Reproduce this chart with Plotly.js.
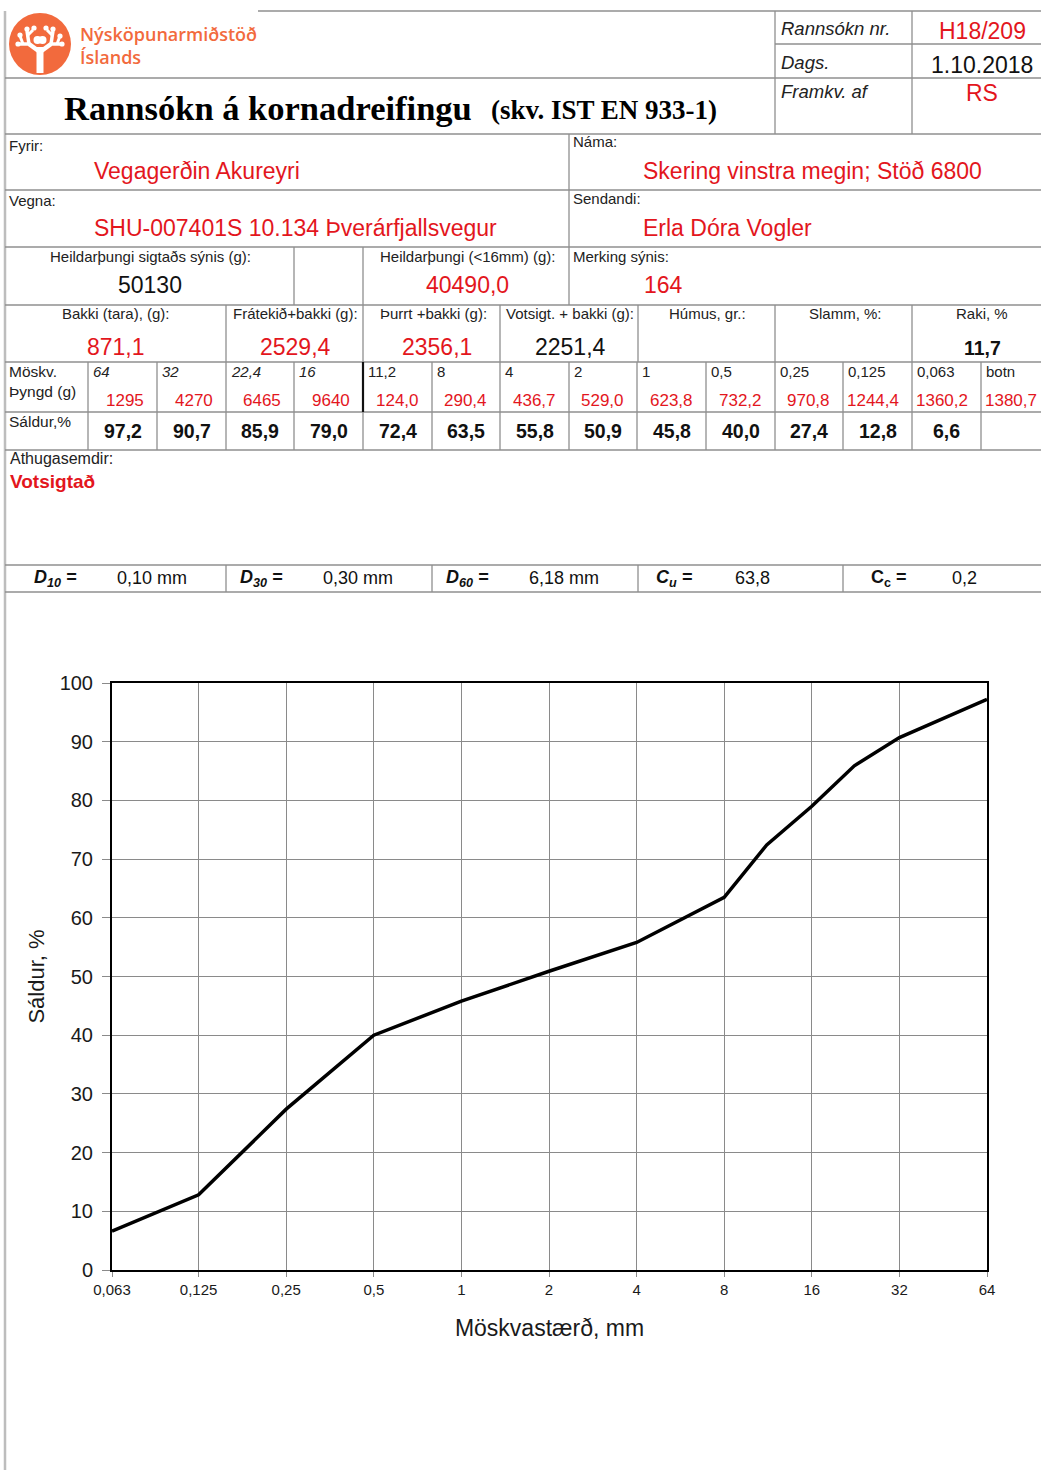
<!DOCTYPE html>
<html>
<head>
<meta charset="utf-8">
<script src="https://cdn.plot.ly/plotly-3.0.1.min.js"></script>
<style>html,body{margin:0;padding:0;background:#fff;}#chart{width:1041px;height:1470px;}</style>
</head>
<body>
<div id="chart"></div>
<script>
// ---------- data ----------
const sieveSizes = [0.063, 0.125, 0.25, 0.5, 1, 2, 4, 8, 11.2, 16, 22.4, 32, 64];
const passing    = [6.6, 12.8, 27.4, 40.0, 45.8, 50.9, 55.8, 63.5, 72.4, 79.0, 85.9, 90.7, 97.2];

const xTickVals = [0.063, 0.125, 0.25, 0.5, 1, 2, 4, 8, 16, 32, 64];
const xTickText = ['0,063', '0,125', '0,25', '0,5', '1', '2', '4', '8', '16', '32', '64'];
const yTickVals = [0, 10, 20, 30, 40, 50, 60, 70, 80, 90, 100];

const tableSieves  = ['64', '32', '22,4', '16', '11,2', '8', '4', '2', '1', '0,5', '0,25', '0,125', '0,063', 'botn'];
const tableWeights = ['1295', '4270', '6465', '9640', '124,0', '290,4', '436,7', '529,0', '623,8', '732,2', '970,8', '1244,4', '1360,2', '1380,7'];
const tablePassing = ['97,2', '90,7', '85,9', '79,0', '72,4', '63,5', '55,8', '50,9', '45,8', '40,0', '27,4', '12,8', '6,6', ''];

const reportNo = 'H18/209', reportDate = '1.10.2018', performedBy = 'RS';
const client = 'Vegagerðin Akureyri', mine = 'Skering vinstra megin; Stöð 6800';
const project = 'SHU-007401S 10.134 Þverárfjallsvegur', sender = 'Erla Dóra Vogler';
const totalMass = '50130', totalMass16 = '40490,0', sampleId = '164';
const tray = '871,1', reservedTray = '2529,4', dryTray = '2356,1', washedTray = '2251,4', moisture = '11,7';
const remark = 'Votsigtað';
const dLabels = ['10', '30', '60'];
const dValues = ['0,10 mm', '0,30 mm', '6,18 mm'];
const cu = '63,8', cc = '0,2';

// ---------- helpers ----------
const W = 1041, H = 1470;
const px = x => x / W, py = y => 1 - y / H;
const SANS = 'Liberation Sans, Arial, Helvetica, sans-serif';
const SERIF = 'Liberation Serif, Times New Roman, serif';
const RED = '#e3161d', ORANGE = '#f26a3d', LINE = '#8f8f8f';
const shapes = [], annotations = [];

function ln(x0, y0, x1, y1, color = LINE, width = 1.3) {
  shapes.push({type: 'line', xref: 'paper', yref: 'paper', x0: px(x0), y0: py(y0), x1: px(x1), y1: py(y1),
    line: {color: color, width: width}, layer: 'above'});
}
function circ(cx, cy, r, fill) {
  shapes.push({type: 'circle', xref: 'paper', yref: 'paper', x0: px(cx - r), x1: px(cx + r), y0: py(cy + r), y1: py(cy - r),
    fillcolor: fill, line: {width: 0}, layer: 'above'});
}
function txt(x, y, text, size, color = '#111', anchor = 'left', family = SANS, weight) {
  const font = {size: size, color: color, family: family};
  if (weight) font.weight = weight;
  annotations.push({xref: 'paper', yref: 'paper', x: px(x), y: py(y), text: text, showarrow: false,
    xanchor: anchor, yanchor: 'middle', font: font, borderpad: 0});
}

// ---------- form lines ----------
ln(5, 11, 5, 1470, '#bdbdbd', 2.5);
ln(258, 11, 1041, 11);
ln(775, 44, 1041, 44);
[78, 134, 190, 247, 305, 362, 412, 450, 565, 592].forEach(y => ln(5, y, 1041, y));
ln(775, 11, 775, 134); ln(912, 11, 912, 134);
ln(569, 134, 569, 305);
ln(294, 247, 294, 305); ln(363, 247, 363, 305);
[226, 363, 500, 638, 775, 912].forEach(x => ln(x, 305, x, 362));
const cellEdges = [88, 157, 226, 294, 363, 432, 500, 569, 637, 706, 775, 843, 912, 981, 1050];
cellEdges.slice(0, 14).forEach(x => ln(x, 362, x, 450));
ln(363, 362, 363, 412, '#111', 2.2);
[226, 432, 638, 843].forEach(x => ln(x, 565, x, 592));

// ---------- logo ----------
circ(40, 44, 31, ORANGE);
const W2 = '#ffffff';
ln(40, 73, 40, 47, W2, 7);
ln(40, 52, 29, 44, W2, 4.5); ln(40, 52, 51, 44, W2, 4.5);
ln(29, 44, 19, 44, W2, 3.5); ln(51, 44, 61, 44, W2, 3.5);
ln(29, 44, 27, 31, W2, 3.5); ln(51, 44, 53, 31, W2, 3.5);
ln(23, 44, 20, 36, W2, 3); ln(57, 44, 60, 36, W2, 3);
ln(27, 36, 33, 30, W2, 3); ln(53, 36, 47, 30, W2, 3);
[[18, 44], [60, 36], [20, 35], [27, 29], [34, 28], [62, 44], [53, 29], [46, 28]].forEach(p => circ(p[0], p[1], 2.6, W2));
circ(37.5, 40, 4, W2); circ(42.5, 40, 4, W2);
txt(79, 34, 'Nýsköpunarmiðstöð', 18, ORANGE, 'left', 'Open Sans, Liberation Sans, sans-serif', 600);
txt(79, 57, 'Íslands', 18, ORANGE, 'left', 'Open Sans, Liberation Sans, sans-serif', 600);

// ---------- title & header ----------
txt(63, 108, '<b>Rannsókn á kornadreifingu</b>', 34.5, '#000', 'left', SERIF);
txt(490, 110, '<b>(skv. IST EN 933-1)</b>', 27, '#000', 'left', SERIF);
txt(780, 28, '<i>Rannsókn nr.</i>', 18.5, '#222');
txt(982, 31, reportNo, 23, RED, 'center');
txt(780, 62, '<i>Dags.</i>', 18.5, '#222');
txt(982, 65, reportDate, 23, '#111', 'center');
txt(780, 91, '<i>Framkv. af</i>', 18.5, '#222');
txt(982, 93, performedBy, 23, RED, 'center');

// ---------- info rows ----------
txt(8, 145, 'Fyrir:', 15, '#222');
txt(93, 171, client, 23, RED);
txt(572, 141, 'Náma:', 15, '#222');
txt(642, 171, mine, 23, RED);
txt(8, 200, 'Vegna:', 15, '#222');
txt(93, 228, project, 23, RED);
txt(572, 198, 'Sendandi:', 15, '#222');
txt(642, 228, sender, 23, RED);

txt(150, 257, 'Heildarþungi sigtaðs sýnis (g):', 15, '#222', 'center');
txt(150, 285, totalMass, 23, '#111', 'center');
txt(467, 257, 'Heildarþungi (&lt;16mm) (g):', 15, '#222', 'center');
txt(467, 285, totalMass16, 23, RED, 'center');
txt(572, 257, 'Merking sýnis:', 15, '#222');
txt(643, 285, sampleId, 23, RED);

txt(116, 313, 'Bakki (tara), (g):', 15, '#222', 'center');
txt(116, 347, tray, 23, RED, 'center');
txt(295, 313, 'Frátekið+bakki (g):', 15, '#222', 'center');
txt(295, 347, reservedTray, 23, RED, 'center');
txt(433, 313, 'Þurrt +bakki (g):', 15, '#222', 'center');
txt(437, 347, dryTray, 23, RED, 'center');
txt(570, 313, 'Votsigt. + bakki (g):', 15, '#222', 'center');
txt(570, 347, washedTray, 23, '#111', 'center');
txt(707, 313, 'Húmus, gr.:', 15, '#222', 'center');
txt(845, 313, 'Slamm, %:', 15, '#222', 'center');
txt(982, 313, 'Raki, %', 15, '#222', 'center');
txt(982, 348, '<b>' + moisture + '</b>', 19.5, '#111', 'center');

// ---------- sieve table ----------
txt(8, 372, 'Möskv.', 15.5, '#222');
txt(8, 391, 'Þyngd (g)', 15.5, '#222');
txt(8, 422, 'Sáldur,%', 15.5, '#222');
tableSieves.forEach((s, i) => {
  const x0 = cellEdges[i], x1 = cellEdges[i + 1];
  txt(x0 + 4, 372, i < 4 ? '<i>' + s + '</i>' : s, 15, '#222');
  txt(Math.min(x1 - 12, 1040), 400, tableWeights[i], 17, RED, 'right');
  if (tablePassing[i]) txt((x0 + x1) / 2, 431, '<b>' + tablePassing[i] + '</b>', 19.5, '#111', 'center');
});

// ---------- remarks & D row ----------
txt(9, 458, 'Athugasemdir:', 16, '#222');
txt(9, 481, '<b>' + remark + '</b>', 19, RED);
const dX = [33, 239, 445];
dLabels.forEach((d, i) => {
  txt(dX[i], 578, '<b><i>D<sub>' + d + '</sub> =</i></b>', 18, '#111');
  txt(dX[i] + 83, 578, dValues[i], 18, '#111');
});
txt(655, 578, '<b><i>C<sub>u</sub> =</i></b>', 18, '#111');
txt(734, 578, cu, 18, '#111');
txt(870, 578, '<b>C<sub>c</sub> =</b>', 18, '#111');
txt(951, 578, cc, 18, '#111');

// ---------- chart ----------
const trace = {x: sieveSizes, y: passing, type: 'scatter', mode: 'lines',
  line: {color: '#000', width: 3.5}, hoverinfo: 'x+y', showlegend: false};

const layout = {
  width: W, height: H,
  margin: {l: 0, r: 0, t: 0, b: 0},
  paper_bgcolor: '#fff', plot_bgcolor: '#fff',
  showlegend: false,
  xaxis: {
    type: 'log', domain: [px(112), px(987)],
    range: [Math.log10(0.063), Math.log10(64)],
    tickmode: 'array', tickvals: xTickVals, ticktext: xTickText,
    showgrid: true, gridcolor: '#8a8a8a', gridwidth: 1,
    showline: true, mirror: true, linecolor: '#000', linewidth: 2,
    ticks: 'outside', ticklen: 5, tickcolor: '#8a8a8a',
    tickfont: {family: SANS, size: 15, color: '#1a1a1a'},
    zeroline: false, automargin: false,
    title: {text: 'Möskvastærð, mm', font: {family: SANS, size: 23, color: '#1a1a1a'}, standoff: 23}
  },
  yaxis: {
    domain: [py(1270), py(683)], range: [0, 100],
    tickmode: 'array', tickvals: yTickVals,
    showgrid: true, gridcolor: '#8a8a8a', gridwidth: 1,
    showline: true, mirror: true, linecolor: '#000', linewidth: 2,
    ticks: 'outside', ticklen: 8, tickcolor: '#8a8a8a', ticklabelstandoff: 5,
    tickfont: {family: SANS, size: 20, color: '#1a1a1a'},
    zeroline: false, automargin: false,
    title: {text: 'Sáldur, %', font: {family: SANS, size: 22, color: '#1a1a1a'}, standoff: 9}
  },
  shapes: shapes,
  annotations: annotations
};

Plotly.newPlot('chart', [trace], layout, {displayModeBar: false, staticPlot: true});
</script>
</body>
</html>
